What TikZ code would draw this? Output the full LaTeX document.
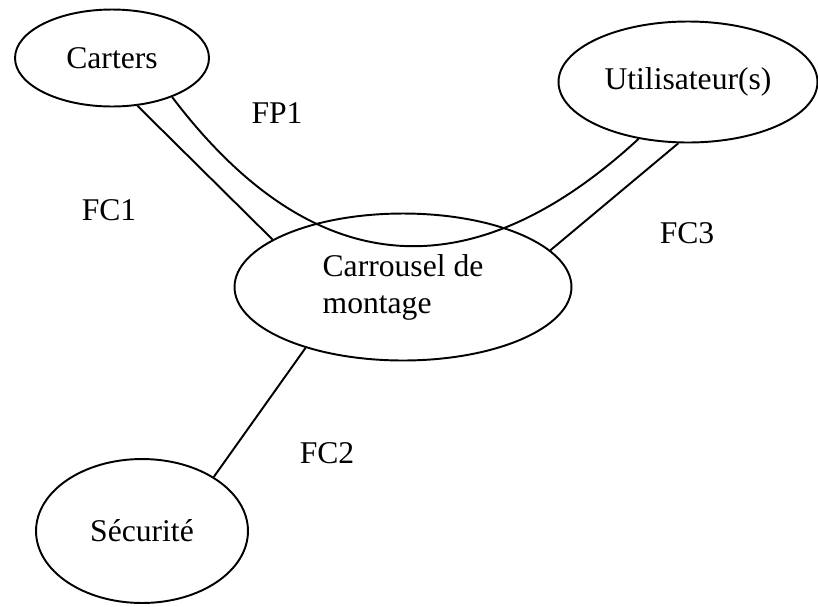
\documentclass[tikz,border=0pt]{standalone}
\usepackage{fontspec}
\setmainfont{Liberation Serif}
\usetikzlibrary{shapes.geometric}

\begin{document}
\begin{tikzpicture}[x = 0.02cm, y = -0.02cm, line width = 1.1pt,
  bulle/.style = {draw, ellipse, inner sep = 0pt, font = \fontsize{18}{21}\selectfont},
  fonction/.style = {font = \fontsize{18}{21}\selectfont}]
\useasboundingbox (0,0) rectangle (818,606);
\node[bulle, minimum width = 3.88cm, minimum height = 1.94cm] (carters) at (112,58) {Carters};
\node[bulle, minimum width = 5.18cm, minimum height = 2.42cm] (util) at (688,82) {Utilisateur(s)};
\node[bulle, minimum width = 6.74cm, minimum height = 2.94cm, align = left] (carrousel) at (403,287) {Carrousel de\\montage};
\node[bulle, minimum width = 4.24cm, minimum height = 2.88cm] (secu) at (142,531) {S\'ecurit\'e};
\node[fonction] (fp1) at (277,113) {FP1};
\node[fonction] (fc1) at (109,210) {FC1};
\node[fonction] (fc3) at (687,233) {FC3};
\node[fonction] (fc2) at (327,453) {FC2};
\draw (carters.-33) .. controls (320,292) and (480,285) .. (util.229);
\draw (carters.-62) -- (carrousel.160);
\draw (util.261) -- (carrousel.14);
\draw (carrousel.212) -- (secu.37);
\end{tikzpicture}
\end{document}
